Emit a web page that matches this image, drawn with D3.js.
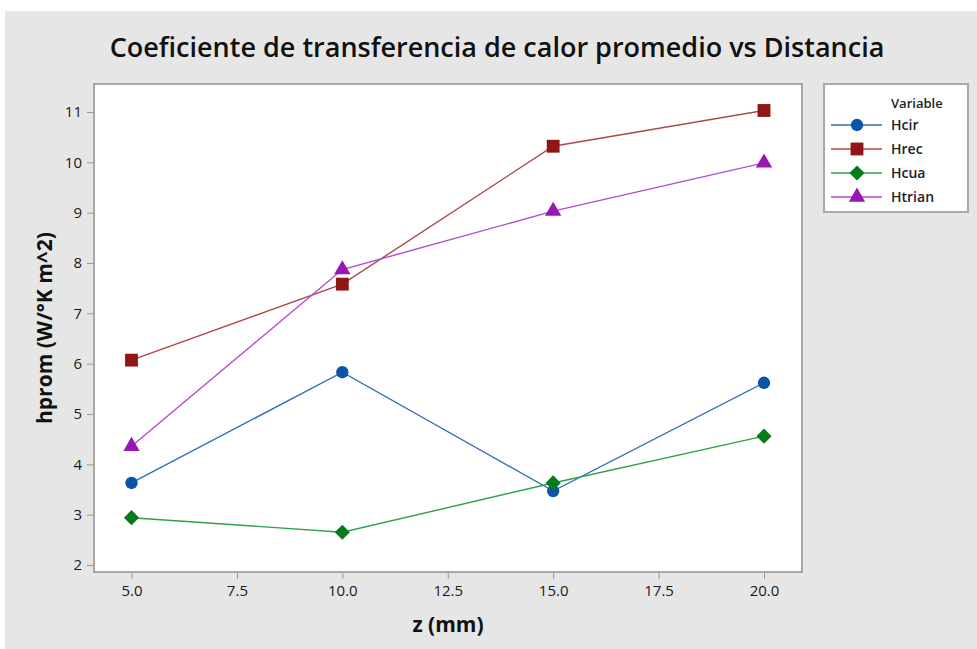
<!DOCTYPE html>
<html>
<head>
<meta charset="utf-8">
<script src="https://cdn.jsdelivr.net/npm/d3@7"></script>
<style>
  html, body { margin: 0; padding: 0; background: #fff; }
  svg { display: block; }
  text { font-family: "Open Sans", "Noto Sans", sans-serif; }
</style>
</head>
<body>
<div id="chart"></div>
<script>
const zValues = [5, 10, 15, 20]
const hcir = [3.63, 5.83, 3.47, 5.62]
const hrec = [6.07, 7.58, 10.32, 11.03]
const hcua = [2.94, 2.65, 3.63, 4.56]
const htrian = [4.36, 7.87, 9.03, 9.99]
const xTicks = [5, 7.5, 10, 12.5, 15, 17.5, 20]
const yTicks = [2, 3, 4, 5, 6, 7, 8, 9, 10, 11]

const seriesList = [
  {label: "Hcir", values: hcir, symbol: d3.symbolCircle, size: 120, rotate: 0, line: "#2f6db8", fill: "#0b55a8"},
  {label: "Hrec", values: hrec, symbol: d3.symbolSquare, size: 165, rotate: 0, line: "#b04848", fill: "#921515"},
  {label: "Hcua", values: hcua, symbol: d3.symbolSquare, size: 115, rotate: 45, line: "#33a045", fill: "#077a1c"},
  {label: "Htrian", values: htrian, symbol: d3.symbolTriangle, size: 115, rotate: 0, line: "#b24ad0", fill: "#9816b6"}
]

const width = 977
const height = 649
const plot = {left: 94, right: 802, top: 84, bottom: 572}

const svg = d3.select("#chart").append("svg")
  .attr("width", width)
  .attr("height", height)

svg.append("rect")
  .attr("x", 5).attr("y", 11)
  .attr("width", width - 5).attr("height", height - 11)
  .attr("fill", "#e6e6e6")

svg.append("text")
  .attr("x", 497).attr("y", 57)
  .attr("text-anchor", "middle")
  .attr("font-size", 27)
  .attr("font-weight", 600)
  .attr("fill", "#111")
  .text("Coeficiente de transferencia de calor promedio vs Distancia")

svg.append("rect")
  .attr("x", plot.left).attr("y", plot.top)
  .attr("width", plot.right - plot.left).attr("height", plot.bottom - plot.top)
  .attr("fill", "#fff")
  .attr("stroke", "#a8a8a8")
  .attr("stroke-width", 2)

const x = d3.scaleLinear().domain([5, 20]).range([131.5, 764])
const y = d3.scaleLinear().domain([2, 11]).range([565, 112])

svg.append("g")
  .attr("transform", `translate(0,${plot.bottom + 1})`)
  .call(d3.axisBottom(x).tickValues(xTicks).tickFormat(d3.format(".1f")).tickSize(6).tickPadding(6))
  .call(g => g.select(".domain").remove())
  .call(g => g.selectAll("line").attr("stroke", "#999"))
  .call(g => g.selectAll("text").attr("font-size", 15).attr("fill", "#1a1a1a").attr("font-family", "Open Sans, sans-serif"))

svg.append("g")
  .attr("transform", `translate(${plot.left - 1},0)`)
  .call(d3.axisLeft(y).tickValues(yTicks).tickSize(6).tickPadding(5))
  .call(g => g.select(".domain").remove())
  .call(g => g.selectAll("line").attr("stroke", "#999"))
  .call(g => g.selectAll("text").attr("font-size", 15).attr("fill", "#1a1a1a").attr("font-family", "Open Sans, sans-serif"))

svg.append("text")
  .attr("x", 448).attr("y", 632)
  .attr("text-anchor", "middle")
  .attr("font-size", 21)
  .attr("font-weight", 700)
  .attr("fill", "#111")
  .text("z (mm)")

svg.append("text")
  .attr("transform", `translate(52,328) rotate(-90)`)
  .attr("text-anchor", "middle")
  .attr("font-size", 21)
  .attr("font-weight", 700)
  .attr("fill", "#111")
  .text("hprom (W/°K m^2)")

const line = d3.line()
  .x((v, i) => x(zValues[i]))
  .y(v => y(v))

seriesList.forEach(series => {
  svg.append("path")
    .datum(series.values)
    .attr("fill", "none")
    .attr("stroke", series.line)
    .attr("stroke-width", 1.4)
    .attr("d", line)
})

seriesList.forEach(series => {
  svg.append("g")
    .selectAll("path")
    .data(series.values)
    .join("path")
    .attr("transform", (v, i) => `translate(${x(zValues[i])},${y(v)}) rotate(${series.rotate})`)
    .attr("d", d3.symbol().type(series.symbol).size(series.size))
    .attr("fill", series.fill)
})

// legend
const legend = svg.append("g")
legend.append("rect")
  .attr("x", 824).attr("y", 84)
  .attr("width", 144).attr("height", 128)
  .attr("fill", "#fff")
  .attr("stroke", "#a8a8a8")
  .attr("stroke-width", 2)

legend.append("text")
  .attr("x", 891).attr("y", 108)
  .attr("font-size", 13)
  .attr("font-weight", 600)
  .attr("fill", "#222")
  .text("Variable")

seriesList.forEach((series, i) => {
  const cy = 125 + i * 24
  legend.append("line")
    .attr("x1", 831).attr("x2", 882)
    .attr("y1", cy).attr("y2", cy)
    .attr("stroke", series.line)
    .attr("stroke-width", 1.6)
  legend.append("path")
    .attr("transform", `translate(857,${cy}) rotate(${series.rotate})`)
    .attr("d", d3.symbol().type(series.symbol).size(series.size))
    .attr("fill", series.fill)
  legend.append("text")
    .attr("x", 891).attr("y", cy + 5)
    .attr("font-size", 14)
    .attr("font-weight", 600)
    .attr("fill", "#222")
    .text(series.label)
})
</script>
</body>
</html>
